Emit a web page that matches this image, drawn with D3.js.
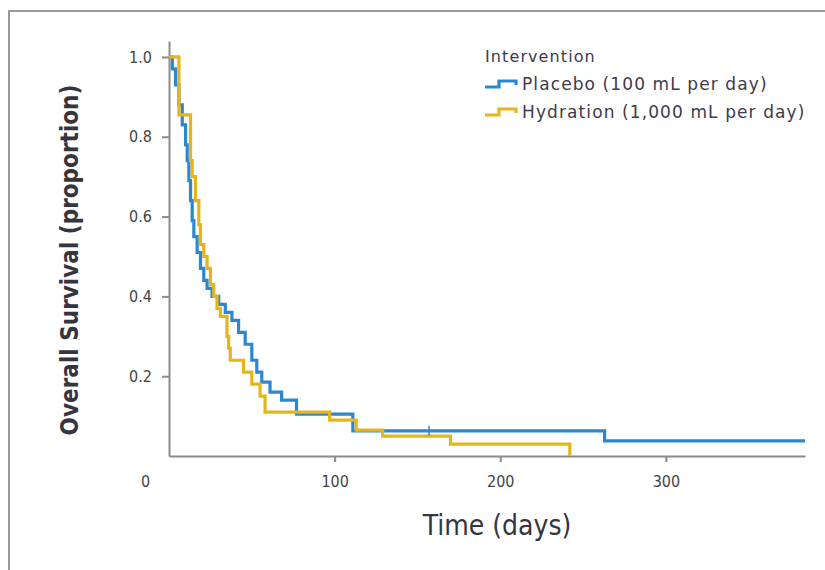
<!DOCTYPE html>
<html>
<head>
<meta charset="utf-8">
<script src="https://cdn.jsdelivr.net/npm/d3@7"></script>
<style>
  body { margin: 0; background: #fff; }
  svg { display: block; }
</style>
</head>
<body>
<svg id="chart" width="825" height="570"></svg>
<script>
// Kaplan-Meier steps: time (days) and survival after that time
const placeboTimes = [0, 2, 4, 6, 8, 10, 11, 12, 13, 14, 15, 17, 19, 21, 23, 26, 30, 34, 38, 42, 46, 50, 53, 56, 61, 68, 77, 111, 263, 384];
const placeboSurv  = [1.0, 0.97, 0.93, 0.88, 0.83, 0.78, 0.74, 0.69, 0.64, 0.59, 0.55, 0.51, 0.47, 0.44, 0.42, 0.40, 0.38, 0.36, 0.34, 0.31, 0.28, 0.24, 0.21, 0.185, 0.16, 0.14, 0.105, 0.063, 0.038, 0.038];
const placeboCensor = [157];

const hydrationTimes = [0, 6, 13, 14, 16, 18, 19, 21, 23, 25, 27, 29, 31, 35, 36, 37, 45, 50, 55, 58, 97, 113, 129, 170, 242];
const hydrationSurv  = [1.0, 0.855, 0.74, 0.70, 0.64, 0.58, 0.53, 0.50, 0.47, 0.43, 0.40, 0.37, 0.35, 0.30, 0.27, 0.24, 0.21, 0.18, 0.15, 0.11, 0.09, 0.065, 0.05, 0.03, 0.0];

const xTicks = [0, 100, 200, 300];
const yTicks = [0.2, 0.4, 0.6, 0.8, 1.0];
const seriesNames = ["Placebo (100 mL per day)", "Hydration (1,000 mL per day)"];
const seriesColors = ["#2b87d1", "#e8b41c"];

const svg = d3.select("#chart");

// frame around the figure
svg.append("rect")
    .attr("x", 9).attr("y", 11)
    .attr("width", 900).attr("height", 700)
    .attr("fill", "none")
    .attr("stroke", "#9a9a9a")
    .attr("stroke-width", 2);

const x = d3.scaleLinear().domain([0, 384]).range([169, 805]);
const y = d3.scaleLinear().domain([0, 1.04]).range([456, 41]);

const axisColor = "#8c8c8c";
const tickFont = "'Liberation Sans Narrow', 'DejaVu Sans Condensed', Arial, sans-serif";

// x axis
const gx = svg.append("g")
    .attr("transform", "translate(0," + y(0) + ")")
    .call(d3.axisBottom(x).tickValues(xTicks).tickSize(6).tickSizeOuter(0).tickPadding(14)
        .tickFormat(d3.format("d")));
gx.selectAll("path, line").attr("stroke", axisColor).attr("stroke-width", 2);
gx.selectAll(".tick").filter(d => d === 0).select("line").remove();
gx.selectAll("text")
    .attr("fill", "#444")
    .style("font-family", tickFont)
    .style("font-size", "16px");
// the 0 label sits left of the origin in the original
gx.selectAll(".tick").filter(d => d === 0).select("text").attr("dx", -24);

// y axis
const gy = svg.append("g")
    .attr("transform", "translate(" + x(0) + ",0)")
    .call(d3.axisLeft(y).tickValues(yTicks).tickSize(7).tickSizeOuter(0).tickPadding(10)
        .tickFormat(d3.format(".1f")));
gy.selectAll("path, line").attr("stroke", axisColor).attr("stroke-width", 2);
gy.selectAll("text")
    .attr("fill", "#444")
    .style("font-family", tickFont)
    .style("font-size", "16px");

// axis titles
svg.append("text")
    .attr("transform", "translate(78," + 260 + ") rotate(-90)")
    .attr("text-anchor", "middle")
    .attr("fill", "#35353f")
    .style("font-family", tickFont)
    .style("font-size", "24px")
    .style("font-weight", "bold")
    .text("Overall Survival (proportion)");

svg.append("text")
    .attr("x", 497).attr("y", 535)
    .attr("text-anchor", "middle")
    .attr("fill", "#35353f")
    .style("font-family", tickFont)
    .style("font-size", "28px")
    .text("Time (days)");

// step curves
function stepData(times, surv) {
    return times.map((t, i) => [t, surv[i]]);
}
const line = d3.line()
    .x(d => x(d[0]))
    .y(d => y(d[1]))
    .curve(d3.curveStepAfter);

const curves = [
    stepData(placeboTimes, placeboSurv),
    stepData(hydrationTimes, hydrationSurv)
];

svg.append("g")
    .selectAll("path")
    .data(curves)
    .enter().append("path")
    .attr("d", line)
    .attr("fill", "none")
    .attr("stroke", (d, i) => seriesColors[i])
    .attr("stroke-width", 3.2);

// censor mark on placebo
svg.append("g")
    .selectAll("line")
    .data(placeboCensor)
    .enter().append("line")
    .attr("x1", d => x(d)).attr("x2", d => x(d))
    .attr("y1", d => y(0.063) - 5).attr("y2", d => y(0.063) + 5)
    .attr("stroke", seriesColors[0])
    .attr("stroke-width", 1.5);

// legend
const legend = svg.append("g").attr("transform", "translate(485,0)");
const legendFont = "'DejaVu Sans', Verdana, sans-serif";
legend.append("text")
    .attr("x", 0).attr("y", 62)
    .attr("fill", "#3f3a4a")
    .style("font-family", legendFont)
    .style("font-size", "16px")
    .style("letter-spacing", "1.1px")
    .text("Intervention");

const items = legend.selectAll("g.item")
    .data(seriesNames)
    .enter().append("g")
    .attr("class", "item")
    .attr("transform", (d, i) => "translate(0," + (84 + i * 28) + ")");
items.append("path")
    .attr("d", "M0,3 H14 V-3 H31 V1")
    .attr("fill", "none")
    .attr("stroke", (d, i) => seriesColors[i])
    .attr("stroke-width", 3.2);
items.append("text")
    .attr("x", 37).attr("y", 6)
    .attr("fill", "#3f3a4a")
    .style("font-family", legendFont)
    .style("font-size", "17px")
    .style("letter-spacing", "1.1px")
    .text(d => d);
</script>
</body>
</html>
